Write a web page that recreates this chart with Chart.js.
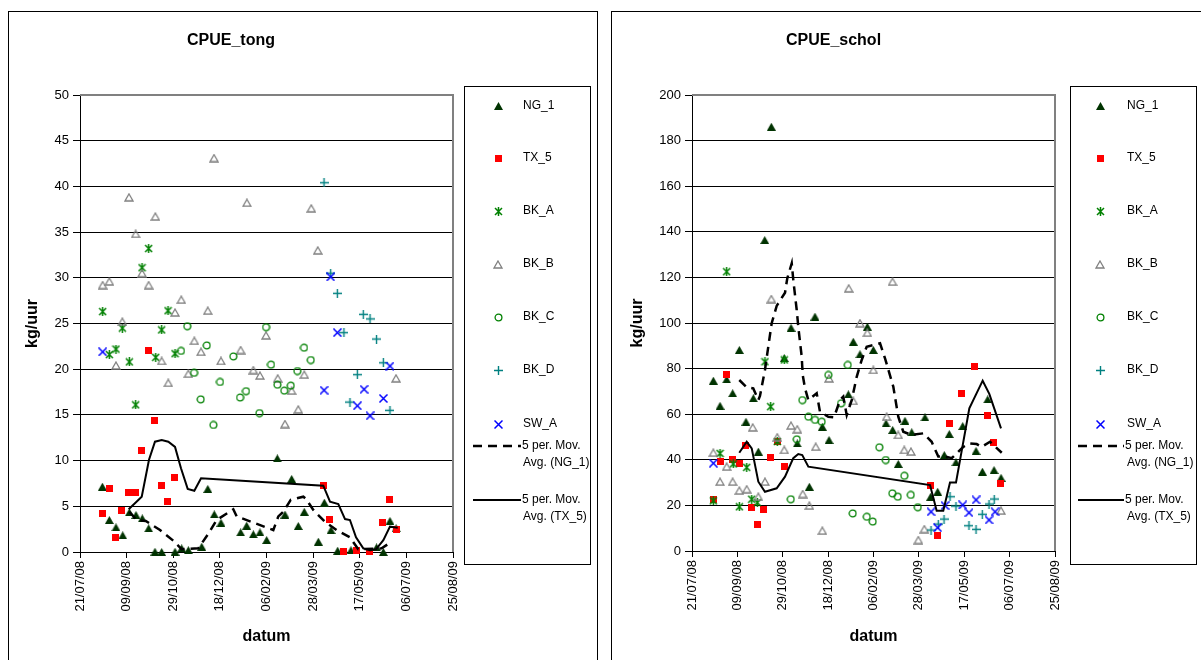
<!DOCTYPE html>
<html><head><meta charset="utf-8">
<script src="https://cdn.jsdelivr.net/npm/chart.js@4.4.1/dist/chart.umd.min.js"></script>
<style>
html,body{margin:0;padding:0;background:#fff;}
body{width:1201px;height:660px;overflow:hidden;position:relative;}
.panel{position:absolute;top:11px;height:660px;border:1px solid #000;border-bottom:none;box-sizing:border-box;}
canvas{position:absolute;}
</style></head><body>
<div class="panel" style="left:8px;width:590px"></div>
<div class="panel" style="left:611px;width:595px"></div>
<canvas id="cTong" width="587" height="648" style="left:9px;top:12px"></canvas>
<canvas id="cSchol" width="589" height="648" style="left:612px;top:12px"></canvas>
<script>
// ---------- tick labels / names ----------
const xTickLabels = ['21/07/08','09/09/08','29/10/08','18/12/08','06/02/09','28/03/09','17/05/09','06/07/09','25/08/09'];
const seriesNames = ['NG_1','TX_5','BK_A','BK_B','BK_C','BK_D','SW_A'];
const maNames = [['5 per. Mov.','Avg. (NG_1)'],['5 per. Mov.','Avg. (TX_5)']];
// x values: days since 21/07/08

// ---------- CPUE_tong ----------
const tongNG1Day = [24,31.5,38.6,45.8,52.9,60,66.8,73.6,80.4,87.6,101.9,109,116.2,130.5,137,144,151.2,172.3,178.7,185.9,193,200.2,211.6,219.8,227,234.1,240.5,255.6,262,269.2,276.3,290.6,318,325.3,332.4,339];
const tongNG1Val = [7.15,3.5,2.7,1.83,4.34,4.05,3.68,2.59,0.03,0,0.03,0.4,0.2,0.58,6.9,4.12,3.2,2.15,2.88,1.94,2.15,1.31,10.25,4.1,8.0,2.85,4.4,1.13,5.4,2.4,0.15,0.2,0.5,0,3.4,2.6];
const tongTX5Day = [23.6,31.1,37.9,45,52.2,59.3,65.8,73.3,80.1,86.9,94,101.2,261,268,282.4,296.7,310.3,324.6,331.7,338.9];
const tongTX5Val = [4.23,6.97,1.56,4.52,6.53,6.53,11.1,22.0,14.4,7.33,5.5,8.17,7.25,3.6,0.03,0.2,0.03,3.2,5.7,2.5];
const tongBKADay = [24.3,31.5,38.6,45.4,52.9,59.7,66.5,73.6,81.2,87.6,94.4,101.9];
const tongBKAVal = [26.3,21.6,22.2,24.5,20.8,16.1,31.1,33.2,21.3,24.3,26.4,21.7];
const tongBKBDay = [24.3,31.5,38.6,45.4,52.5,59.7,66.5,73.6,80.8,87.6,94.7,101.9,108.6,116.2,122.6,129.8,137,143.7,151.2,172.3,179,185.9,193,199.5,212,219.8,227,234.1,240.5,248,255,338.9];
const tongBKBVal = [29.2,29.6,20.4,25.2,38.8,34.8,30.5,29.2,36.7,20.9,18.5,26.2,27.6,19.5,23.1,21.9,26.4,43.1,20.9,22.1,38.2,19.9,19.3,23.7,19.0,14.0,17.65,15.6,19.4,37.6,33.0,19.0];
const tongBKCDay = [108.3,115,122.3,129.4,135.9,143,150.1,164.4,171.6,178,192.3,199.5,204.8,211.6,219,226,233,240.2,247.4];
const tongBKCVal = [22.0,24.7,19.6,16.7,22.6,13.9,18.6,21.4,16.9,17.6,15.2,24.6,20.5,18.3,17.65,18.2,19.8,22.35,21.0];
const tongBKDDay = [261.7,268.8,276,283,289.5,297.4,303.8,311,318,325.3,332.4];
const tongBKDVal = [40.4,30.5,28.3,24.0,16.4,19.4,26.0,25.5,23.3,20.7,15.5];
const tongSWADay = [24.3,261.7,268.8,276,297.4,304.6,311,325.3,332.4];
const tongSWAVal = [21.9,17.7,30.1,24.0,16.0,17.8,14.9,16.8,20.35];
const tongMaNGDay = [52.9,60.8,70.5,85.8,100,109,126.9,137.6,146.6,164.4,168,207.3,212.7,218,226,239.5,242.4,250.2,262.7,275.3,289.5,298.4,323.5,333.2];
const tongMaNGVal = [4.4,3.5,3.4,2.4,1.24,0.3,0.4,2.0,3.5,4.67,3.9,2.4,3.9,4.4,5.7,6.05,5.8,4.6,3.3,2.4,1.6,0.3,0.4,1.06];
const tongMaTXDay = [52.2,66.2,74,80.4,87.6,94.7,101.9,108.3,115.5,122.6,129.8,260.9,268.1,277,284.2,289.5,296,303.8,311,317.4,325.3,332.4,340.7];
const tongMaTXVal = [4.67,6.05,10.1,12.07,12.25,12.07,11.5,9.16,6.9,6.7,8.06,7.25,5.5,5.25,3.6,3.5,1.6,0.4,0.2,0.3,1.3,2.77,2.66];

// ---------- CPUE_schol ----------
const scholNG1Day = [23.5,30.9,38.2,44.8,52.2,59.5,67.6,73.1,80.1,87.4,101.7,109.1,116,129.3,135.5,143.6,151,172.3,177.7,185.1,193.2,199.8,213.8,221.1,227.3,234.7,242.1,256.7,263,270.7,278,283.5,290.9,298.3,313,320,325.8,332.8,340.5];
const scholNG1Val = [74.7,63.7,75.3,69.2,88.2,56.7,67.0,43.6,136.4,186.1,84.6,97.9,47.2,28.2,102.8,54.5,48.7,68.7,91.8,86.3,98.4,88.2,56.0,53.1,38.2,57.1,52.1,58.6,23.8,26.0,42.1,51.3,38.9,54.8,43.9,34.8,66.5,35.5,32.1];
const scholTX5Day = [23.5,30.9,37.5,44.8,52.2,59.5,65.8,72,79.3,86.7,94,101.4,263,270.3,283.2,297.2,311.8,325.8,332,339.4];
const scholTX5Val = [22.4,39.2,77.2,40.2,38.2,46.1,19.2,11.7,18.3,41.1,47.9,37.0,28.8,6.9,56.0,68.9,80.8,59.6,47.7,29.4];
const scholBKADay = [23.5,30.9,38.2,45.5,52.2,60.3,65.8,72,80.4,86.7,94,101.7];
const scholBKAVal = [22.0,42.8,122.5,38.2,19.4,36.7,22.7,21.2,83.0,63.3,48.0,83.8];
const scholBKBDay = [23.5,30.9,38.2,44.8,52.2,60.3,66.9,73.1,80.4,87.4,94,101.7,109.1,116,122,129.3,136.3,143.6,151,172.7,177.7,185.1,193.2,199.8,214.5,221,227.3,233.9,241.3,249.4,256,340.5];
const scholBKBVal = [43.1,30.4,37.0,30.4,26.5,27.1,54.2,23.8,30.4,110.5,49.9,44.3,55.0,53.4,25.0,19.9,45.7,8.9,75.7,115.2,65.8,99.9,95.7,79.4,58.9,118.1,50.9,44.3,43.6,4.8,9.6,17.7];
const scholBKCDay = [108.8,115.4,121.5,128.2,135.5,142.9,150.2,164.2,171.6,177,192.5,199.1,206.4,213.4,220.7,226.7,233.9,241,248.7];
const scholBKCVal = [22.7,49.0,66.2,58.9,57.5,56.7,77.2,64.8,81.6,16.5,15.0,12.9,45.5,39.9,25.3,23.8,33.0,24.6,19.2];
const scholBKDDay = [263.4,271.4,277.7,284.3,290.9,305.2,313,319.9,327.3,333];
const scholBKDVal = [9.2,11.8,14.0,23.8,19.7,11.1,9.5,16.1,20.6,22.8];
const scholSWADay = [23.5,263.4,270.7,278.8,298.3,305.2,313,327.3,333.9];
const scholSWAVal = [38.5,17.2,10.2,19.9,20.2,16.8,22.4,13.6,17.2];
const scholMaNGDay = [52.1,60.3,67.5,73.1,74.9,80.4,83,87.8,93.3,102.5,105,109.9,111.6,115.4,117.1,120.9,122,124.5,128.2,137.4,141,150.2,156.5,163.1,166.7,170.5,176,181.5,187,192.5,207.2,212.7,221.8,227.3,232.8,242.1,254.9,264.1,271.4,278.8,286.2,299,306.3,313.7,319.2,328.4,341.3];
const scholMaNGVal = [75.0,71.8,71.3,66.2,68,79.4,86.7,99.9,107.5,113.3,119.6,126.2,118.9,105.7,98.4,85.2,77.2,71.4,66.2,69.2,61.1,58.9,58.6,66.2,67.7,59.6,66.2,76.4,83.8,89.6,91.1,84.5,72.1,58.9,52.3,50.9,51.6,47.9,41.4,41.4,40.7,45.7,47.2,46.9,45.7,47.9,43.1];
const scholMaTXDay = [52.1,60.3,65.8,73.1,80.4,93.3,102.5,111.6,117.1,121.5,128.2,262.3,269.6,276.9,284.3,290.9,305.6,320.3,327.6,340.5];
const scholMaTXVal = [43.1,47.9,45.0,30.4,26.0,27.5,32.6,40.7,42.5,42.1,37.0,28.9,17.7,17.7,30.0,30.0,62.6,74.7,68.9,53.8];

// ---------- marker images ----------
function mk(w,h,draw){const c=document.createElement('canvas');c.width=w;c.height=h;const g=c.getContext('2d');draw(g);return c;}
const mNG = mk(9,8,g=>{g.fillStyle='#003300';g.beginPath();g.moveTo(4.5,0);g.lineTo(9,8);g.lineTo(0,8);g.closePath();g.fill();});
const mTX = mk(7,7,g=>{g.fillStyle='#ff0000';g.fillRect(0,0,7,7);});
const mBKA = mk(9,9,g=>{g.strokeStyle='#008000';g.lineWidth=1.5;g.beginPath();g.moveTo(1,1);g.lineTo(8,8);g.moveTo(8,1);g.lineTo(1,8);g.moveTo(4.5,0);g.lineTo(4.5,9);g.stroke();});
const mBKB = mk(10,9,g=>{g.strokeStyle='#808080';g.lineWidth=1.3;g.beginPath();g.moveTo(5,1);g.lineTo(9,8);g.lineTo(1,8);g.closePath();g.stroke();});
const mBKC = mk(9,9,g=>{g.strokeStyle='#008000';g.lineWidth=1.3;g.beginPath();g.arc(4.5,4.5,3.4,0,Math.PI*2);g.stroke();});
const mBKD = mk(9,9,g=>{g.strokeStyle='#008080';g.lineWidth=1.4;g.beginPath();g.moveTo(0,4.5);g.lineTo(9,4.5);g.moveTo(4.5,0);g.lineTo(4.5,9);g.stroke();});
const mSWA = mk(9,9,g=>{g.strokeStyle='#0000ff';g.lineWidth=1.5;g.beginPath();g.moveTo(0.5,0.5);g.lineTo(8.5,8.5);g.moveTo(8.5,0.5);g.lineTo(0.5,8.5);g.stroke();});
const markers = [mNG,mTX,mBKA,mBKB,mBKC,mBKD,mSWA];

const FONT = '"Liberation Sans", Arial, sans-serif';
Chart.defaults.font.family = FONT;
Chart.defaults.color = '#000';

function pts(d,v){return d.map((x,i)=>({x:x,y:v[i]}));}

const framePlugin = {
  id:'frame',
  beforeDatasetsDraw(chart){
    const {ctx, chartArea:a} = chart;
    ctx.save(); ctx.strokeStyle='#808080'; ctx.lineWidth=2;
    ctx.beginPath(); ctx.moveTo(a.left,a.top); ctx.lineTo(a.right,a.top); ctx.lineTo(a.right,a.bottom); ctx.stroke();
    ctx.restore();
  }
};
const legendCfg = {};
const legendPlugin = {
  id:'boxLegend',
  afterDraw(chart){
    const o = legendCfg[chart.canvas.id]; if(!o) return;
    const ctx = chart.ctx; ctx.save();
    ctx.strokeStyle='#000'; ctx.lineWidth=1; ctx.strokeRect(o.x+0.5,o.y+0.5,o.w,o.h);
    ctx.font='12px '+FONT; ctx.fillStyle='#000'; ctx.textBaseline='middle'; ctx.textAlign='left';
    seriesNames.forEach((n,i)=>{
      const img = markers[i], y = o.ys[i];
      ctx.drawImage(img, Math.round(o.mx - img.width/2), Math.round(y - img.height/2));
      ctx.fillText(n, o.tx, y);
    });
    [[2.5,[9,6]],[2,[]]].forEach((st,j)=>{
      const y = o.maY[j];
      ctx.strokeStyle='#000'; ctx.lineWidth=st[0]; ctx.setLineDash(st[1]);
      ctx.beginPath(); ctx.moveTo(o.lx0,y); ctx.lineTo(o.lx1,y); ctx.stroke(); ctx.setLineDash([]);
      ctx.fillText(maNames[j][0], o.lx1+1, y);
      ctx.fillText(maNames[j][1], o.tx, y+17);
    });
    ctx.restore();
  }
};

function makeChart(id, title, yMax, yStep, data, plot, leg){
  legendCfg[id] = leg;
  const ds = [];
  data.series.forEach((s,i)=>{
    ds.push({label:seriesNames[i], data:pts(s[0],s[1]), showLine:false, pointStyle:markers[i], pointRadius:5, pointHoverRadius:5, order:7-i, clip:false});
  });
  ds.push({label:'MA NG_1', data:pts(data.maNG[0],data.maNG[1]), showLine:true, borderColor:'#000', borderWidth:2.5, borderDash:[9,6], pointRadius:0, tension:0, order:0, clip:false});
  ds.push({label:'MA TX_5', data:pts(data.maTX[0],data.maTX[1]), showLine:true, borderColor:'#000', borderWidth:2, pointRadius:0, tension:0, order:0, clip:false});
  return new Chart(document.getElementById(id), {
    type:'scatter',
    data:{datasets:ds},
    options:{
      responsive:false, animation:false, events:[],
      layout:{padding:{left:0,right:plot.right,top:0,bottom:0}},
      plugins:{
        legend:{display:false}, tooltip:{enabled:false},
        title:{display:true, text:title, color:'#000', font:{size:16, weight:'bold'}, padding:{top:19.4, bottom:44.4}}
      },
      scales:{
        x:{type:'linear', min:0, max:400,
          ticks:{stepSize:50, minRotation:90, maxRotation:90, autoSkip:false, color:'#000', font:{size:13}, padding:3,
            callback:(v)=>xTickLabels[Math.round(v/50)]},
          grid:{drawOnChartArea:false, drawTicks:true, tickLength:6, color:'#000'},
          border:{color:'#000', width:1},
          title:{display:true, text:'datum', color:'#000', font:{size:16, weight:'bold'}, padding:{top:0,bottom:13.4}},
          afterFit:(s)=>{s.height = plot.xh;}
        },
        y:{min:0, max:yMax,
          ticks:{stepSize:yStep, color:'#000', font:{size:13}, padding:4},
          grid:{color:'#000', lineWidth:1, tickLength:7, drawTicks:true},
          border:{color:'#000', width:1},
          title:{display:true, text:'kg/uur', color:'#000', font:{size:16, weight:'bold'}, padding:{top:plot.ytp, bottom:0}},
          afterFit:(s)=>{s.width = plot.yw;}
        }
      }
    },
    plugins:[framePlugin, legendPlugin]
  });
}

makeChart('cTong','CPUE_tong',50,5,{
  series:[[tongNG1Day,tongNG1Val],[tongTX5Day,tongTX5Val],[tongBKADay,tongBKAVal],[tongBKBDay,tongBKBVal],[tongBKCDay,tongBKCVal],[tongBKDDay,tongBKDVal],[tongSWADay,tongSWAVal]],
  maNG:[tongMaNGDay,tongMaNGVal], maTX:[tongMaTXDay,tongMaTXVal]
},{right:143, xh:108, yw:71, ytp:14.4},
{x:455,y:74,w:126,h:478,mx:489,tx:514,ys:[94,146,199,252,305,358,412],maY:[434,488],lx0:464,lx1:512});

makeChart('cSchol','CPUE_schol',200,20,{
  series:[[scholNG1Day,scholNG1Val],[scholTX5Day,scholTX5Val],[scholBKADay,scholBKAVal],[scholBKBDay,scholBKBVal],[scholBKCDay,scholBKCVal],[scholBKDDay,scholBKDVal],[scholSWADay,scholSWAVal]],
  maNG:[scholMaNGDay,scholMaNGVal], maTX:[scholMaTXDay,scholMaTXVal]
},{right:146, xh:109, yw:80, ytp:16.4},
{x:458,y:74,w:126,h:478,mx:488,tx:515,ys:[94,146,199,252,305,358,412],maY:[434,488],lx0:466,lx1:512});
</script>
</body></html>
